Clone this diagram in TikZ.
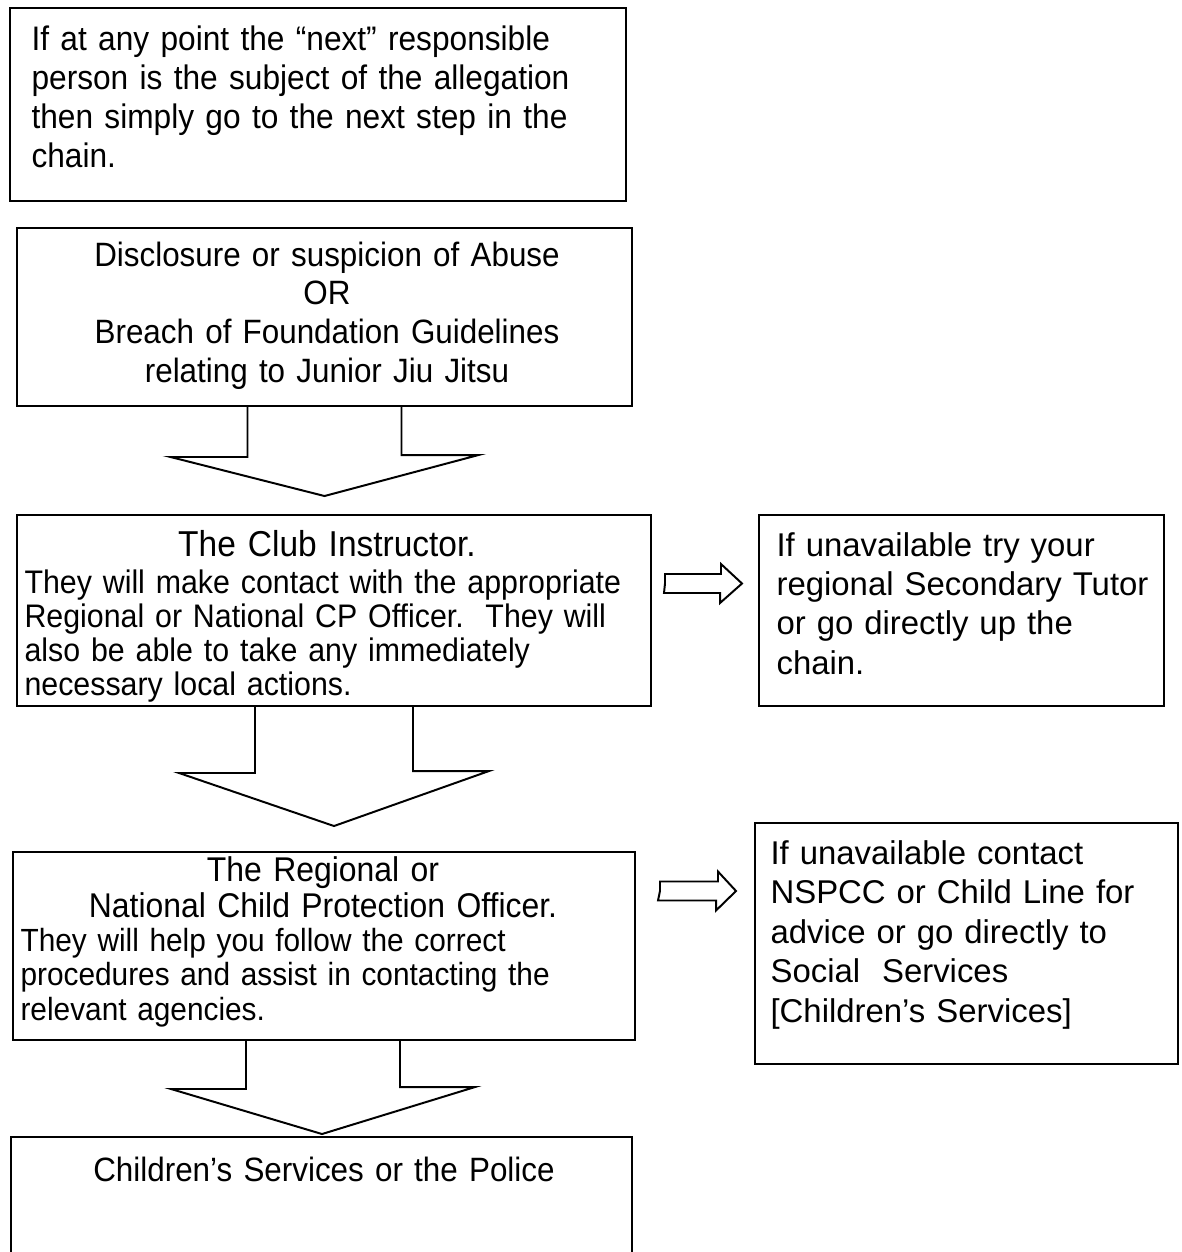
\documentclass[tikz,border=0pt]{standalone}
\usepackage{fontspec}
\setmainfont{Liberation Sans}
\newfontfamily\narrowsans[FakeStretch=0.93]{Liberation Sans}
\usetikzlibrary{calc}
\usetikzlibrary{fit}

\tikzset{
  boxnode/.style={draw=black, line width=0.7pt, rectangle, inner sep=0pt},
  blockarrow/.style={draw=black, line width=0.7pt, line join=miter},
  lefttext/.style={inner sep=0pt, anchor=base west, text width=8cm, align=left},
  midtext/.style={inner sep=0pt, anchor=base, text width=8cm, align=center},
}

\begin{document}
\begin{tikzpicture}[x=0.0125cm,y=-0.0125cm]
\useasboundingbox (0,0) rectangle (1181,1252);

% boxes of the chain
\node[boxnode, fit={(10,8) (626,201)}] (note) {};
\node[boxnode, fit={(17,228) (632,406)}] (disclosure) {};
\node[boxnode, fit={(17,515) (651,706)}] (clubinstr) {};
\node[boxnode, fit={(759,515) (1164,706)}] (tutor) {};
\node[boxnode, fit={(13,852) (635,1040)}] (regional) {};
\node[boxnode, fit={(755,823) (1178,1064)}] (nspcc) {};
\node[boxnode, fit={(11,1137) (632,1290)}] (police) {};

% texts
\node[lefttext, font=\narrowsans\fontsize{12.1}{13.9}\selectfont] (notetext) at (31,50) {If at any point the “next” responsible\\person is the subject of the allegation\\then simply go to the next step in the\\chain.};
\node[midtext, font=\narrowsans\fontsize{12}{13.8}\selectfont] (disclosuretext) at (327,266) {Disclosure or suspicion of Abuse\\OR\\Breach of Foundation Guidelines\\relating to Junior Jiu Jitsu};
\node[midtext, font=\narrowsans\fontsize{12.8}{14}\selectfont] (clubtitle) at (327,556) {The Club Instructor.};
\node[lefttext, font=\narrowsans\fontsize{11.6}{12.1}\selectfont] (clubbody) at (24,593) {They will make contact with the appropriate\\Regional or National CP Officer.\ \ They will\\also be able to take any immediately\\necessary local actions.};
\node[lefttext, font=\fontsize{11.7}{14}\selectfont] (tutortext) at (776,556) {If unavailable try your\\regional Secondary Tutor\\or go directly up the\\chain.};
\node[midtext, font=\narrowsans\fontsize{12.2}{12.8}\selectfont] (regionaltitle) at (323,881) {The Regional or\\National Child Protection Officer.};
\node[lefttext, font=\narrowsans\fontsize{11.4}{12.3}\selectfont] (regionalbody) at (20,951) {They will help you follow the correct\\procedures and assist in contacting the\\relevant agencies.};
\node[lefttext, font=\fontsize{11.7}{14.1}\selectfont] (nspcctext) at (770,864) {If unavailable contact\\NSPCC or Child Line for\\advice or go directly to\\Social\ \ Services\\{[}Children’s Services{]}};
\node[midtext, font=\narrowsans\fontsize{12}{13.8}\selectfont] (policetext) at (324,1181) {Children’s Services or the Police};

% down arrows
\draw[blockarrow] ($(disclosure.south)+(-77,0)$) -- ++(0,50) -- ++(-77,0)
  -- ($(disclosure.south |- clubinstr.north)+(0,-18)$) -- ++(154,-41) -- ++(-77,0) -- ++(0,-50);
\draw[blockarrow] ($(clubinstr.south)+(-79,0)$) -- ++(0,66) -- ++(-76,0)
  -- ($(clubinstr.south |- regional.north)+(0,-25)$) -- ++(155,-55) -- ++(-76,0) -- ++(0,-66);
\draw[blockarrow] ($(regional.south)+(-78,0)$) -- ++(0,48) -- ++(-75,0)
  -- ($(regional.south |- police.north)+(-2,-2)$) -- ++(153,-47) -- ++(-75,0) -- ++(0,-48);

% side arrows
\draw[blockarrow] ($(clubinstr.east)+(13,-27)$) coordinate (sa) -- ++(0,-9.5) -- ++(56,0) -- ++(0,-10)
  -- ($(tutor.west)+(-16,-27)$) -- ++(-22,19.5) -- ++(0,-10) -- ++(-56,0) -- cycle;
\draw[blockarrow] ($(regional.east)+(24,-55)$) coordinate (sb) -- ++(0,-9.5) -- ++(58,0) -- ++(0,-10)
  -- ($(nspcc.west)+(-18,-52.5)$) -- ++(-20,19.5) -- ++(0,-10) -- ++(-58,0) -- cycle;

\end{tikzpicture}
\end{document}
